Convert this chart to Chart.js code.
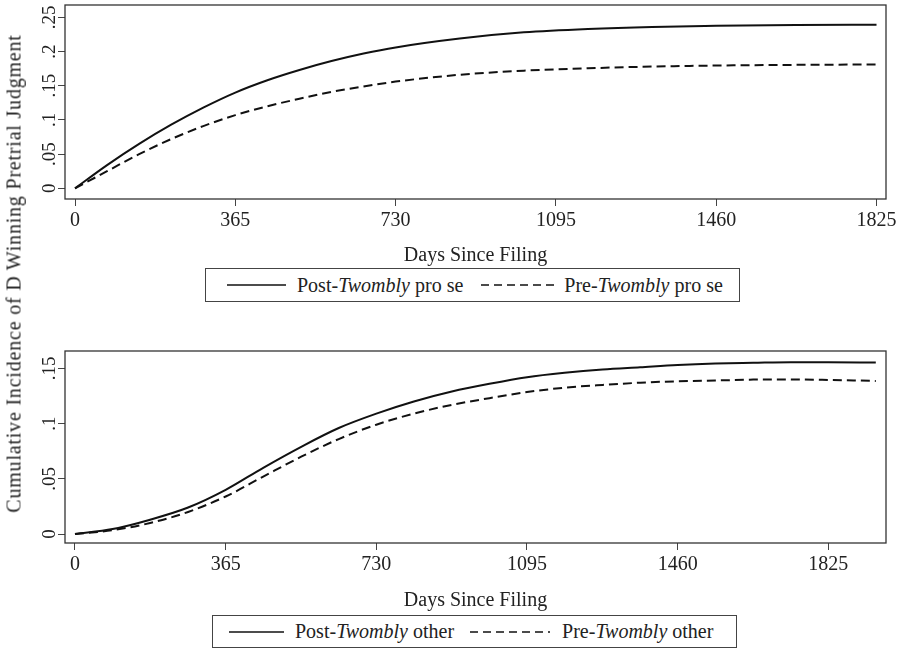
<!DOCTYPE html>
<html>
<head>
<meta charset="utf-8">
<script src="https://cdn.jsdelivr.net/npm/chart.js@4.4.1/dist/chart.umd.min.js"></script>
<style>
  body { margin: 0; background: #fff; }
  #page { position: relative; width: 900px; height: 650px; overflow: hidden; font-family: "Liberation Serif", serif; color: #222; }
  canvas { position: absolute; left: 0; }
  #ytitle { position: absolute; left: -286px; top: 262px; width: 600px; text-align: center; font-size: 20px; letter-spacing: 0.8px; line-height: 23px; transform: rotate(-90deg); white-space: nowrap; }
  .legend { position: absolute; border: 1px solid #444; display: flex; align-items: center; font-size: 20px; box-sizing: border-box; white-space: nowrap; background: #fff; }
</style>
</head>
<body>
<div id="page">
  <canvas id="topChart" width="900" height="268" style="top:0"></canvas>
  <canvas id="bottomChart" width="900" height="267" style="top:346px"></canvas>
  <div id="ytitle">Cumulative Incidence of D Winning Pretrial Judgment</div>
  <div class="legend" style="left:205px; top:268px; width:535px; height:34px; padding-left:21px;">
    <svg width="59" height="4" style="margin-right:11px"><line x1="0" y1="2" x2="59" y2="2" stroke="#111" stroke-width="1.6"/></svg>
    <span>Post-<i>Twombly</i> pro se</span>
    <svg width="75" height="4" style="margin-left:18px; margin-right:8px"><line x1="0" y1="2" x2="75" y2="2" stroke="#111" stroke-width="1.6" stroke-dasharray="8 5"/></svg>
    <span>Pre-<i>Twombly</i> pro se</span>
  </div>
  <div class="legend" style="left:212px; top:615px; width:525px; height:33px; padding-left:16px;">
    <svg width="55" height="4" style="margin-right:11px"><line x1="0" y1="2" x2="55" y2="2" stroke="#111" stroke-width="1.6"/></svg>
    <span>Post-<i>Twombly</i> other</span>
    <svg width="80" height="4" style="margin-left:16px; margin-right:12px"><line x1="0" y1="2" x2="80" y2="2" stroke="#111" stroke-width="1.6" stroke-dasharray="8 5"/></svg>
    <span>Pre-<i>Twombly</i> other</span>
  </div>
</div>
<script>
// top panel: pro se cases
const topDays = [0, 73, 146, 219, 292, 365, 438, 511, 584, 657, 730, 876, 1022, 1168, 1314, 1460, 1642, 1825];
const postProSe = [0, 0.034, 0.065, 0.093, 0.118, 0.140, 0.158, 0.173, 0.186, 0.197, 0.206, 0.219, 0.228, 0.233, 0.236, 0.2375, 0.2388, 0.2393];
const preProSe = [0, 0.025, 0.050, 0.072, 0.091, 0.107, 0.120, 0.131, 0.141, 0.149, 0.156, 0.166, 0.172, 0.1755, 0.178, 0.1795, 0.1805, 0.181];

// bottom panel: other cases
const bottomDays = [0, 91, 182, 274, 365, 456, 548, 639, 730, 821, 913, 1004, 1095, 1186, 1278, 1369, 1460, 1551, 1643, 1734, 1825, 1940];
const postOther = [0, 0.0045, 0.013, 0.024, 0.040, 0.060, 0.079, 0.096, 0.109, 0.120, 0.129, 0.136, 0.142, 0.146, 0.149, 0.151, 0.153, 0.1543, 0.155, 0.1556, 0.1556, 0.1552];
const preOther = [0, 0.0035, 0.010, 0.020, 0.034, 0.052, 0.070, 0.086, 0.099, 0.109, 0.117, 0.123, 0.1285, 0.1325, 0.135, 0.137, 0.1383, 0.139, 0.1398, 0.140, 0.1395, 0.1386];

const xTicks = [0, 365, 730, 1095, 1460, 1825];
const topYTicks = [0, 0.05, 0.1, 0.15, 0.2, 0.25];
const topYLabels = ['0', '.05', '.1', '.15', '.2', '.25'];
const bottomYTicks = [0, 0.05, 0.1, 0.15];
const bottomYLabels = ['0', '.05', '.1', '.15'];

const serif = '"Liberation Serif", serif';

function points(days, vals) {
  return days.map((d, i) => ({ x: d, y: vals[i] }));
}

// box around the plot area + vertical y tick labels (Stata style)
const framePlugin = {
  id: 'frame',
  afterDraw(chart, args, opts) {
    const { ctx, chartArea } = chart;
    const y = chart.scales.y;
    ctx.save();
    ctx.strokeStyle = '#333';
    ctx.lineWidth = 1.3;
    ctx.strokeRect(chartArea.left, chartArea.top, chartArea.right - chartArea.left, chartArea.bottom - chartArea.top);
    ctx.fillStyle = '#222';
    ctx.font = '19px ' + serif;
    ctx.textAlign = 'center';
    ctx.textBaseline = 'alphabetic';
    opts.ticks.forEach((v, i) => {
      ctx.save();
      ctx.translate(55, y.getPixelForValue(v));
      ctx.rotate(-Math.PI / 2);
      ctx.fillText(opts.labels[i], 0, 0);
      ctx.restore();
    });
    ctx.restore();
  }
};

function makeChart(id, post, pre, xmin, xmax, ymin, ymax, yTicks, yLabels, axisH) {
  return new Chart(document.getElementById(id), {
    type: 'line',
    data: {
      datasets: [
        { data: post, borderColor: '#111', borderWidth: 2, pointRadius: 0, tension: 0.4, cubicInterpolationMode: 'monotone', fill: false },
        { data: pre, borderColor: '#111', borderWidth: 2, borderDash: [9, 5], pointRadius: 0, tension: 0.4, cubicInterpolationMode: 'monotone', fill: false }
      ]
    },
    options: {
      responsive: false,
      animation: false,
      layout: { padding: { left: 0, right: 14, top: 5, bottom: 0 } },
      plugins: {
        legend: { display: false },
        tooltip: { enabled: false },
        frame: { ticks: yTicks, labels: yLabels }
      },
      scales: {
        x: {
          type: 'linear',
          min: xmin,
          max: xmax,
          afterBuildTicks: (s) => { s.ticks = xTicks.map(v => ({ value: v })); },
          afterFit: (s) => { s.height = axisH; },
          border: { display: false },
          grid: { drawOnChartArea: false, drawTicks: true, tickLength: 7, color: '#444' },
          ticks: { color: '#222', font: { family: serif, size: 20 }, padding: 3, maxRotation: 0, autoSkip: false, callback: (v) => String(v) },
          title: { display: true, text: 'Days Since Filing', color: '#222', font: { family: serif, size: 20 }, padding: { top: 0, bottom: 0 } }
        },
        y: {
          type: 'linear',
          min: ymin,
          max: ymax,
          afterBuildTicks: (s) => { s.ticks = yTicks.map(v => ({ value: v })); },
          afterFit: (s) => { s.width = 65; },
          border: { display: false },
          grid: { drawOnChartArea: false, drawTicks: true, tickLength: 7, color: '#444' },
          ticks: { display: false }
        }
      }
    },
    plugins: [framePlugin]
  });
}

makeChart('topChart', points(topDays, postProSe), points(topDays, preProSe), -22.8, 1846.6, -0.0156, 0.268, topYTicks, topYLabels, 69);
makeChart('bottomChart', points(bottomDays, postOther), points(bottomDays, preOther), -24.2, 1964.7, -0.0081, 0.1657, bottomYTicks, bottomYLabels, 70);
</script>
</body>
</html>
